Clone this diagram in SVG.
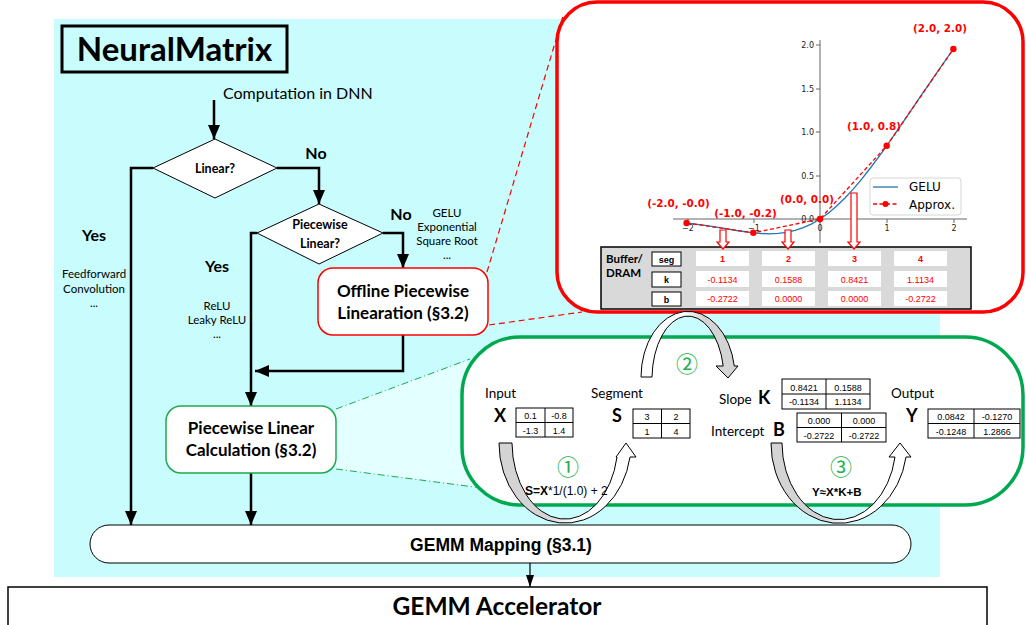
<svg xmlns="http://www.w3.org/2000/svg" width="1026" height="625" viewBox="0 0 1026 625">
<defs>
<style>
.cal{font-family:Lato,"Open Sans","Liberation Sans",sans-serif;fill:#000}
.ar{font-family:"Liberation Sans",Arial,sans-serif;fill:#000}
.dj{font-family:"DejaVu Sans",sans-serif}
.b{font-weight:bold}
.m{text-anchor:middle}
.flow{fill:none;stroke:#000;stroke-width:2.5}
.thin{fill:none;stroke:#000;stroke-width:1.2}
.node{fill:#fff;stroke:#000;stroke-width:1}
.cell{fill:#fff;stroke:#000;stroke-width:1}
.val{font-family:"Liberation Sans",Arial,sans-serif;font-size:9px;text-anchor:middle;fill:#000}
.rv{font-family:"Liberation Sans",Arial,sans-serif;font-size:9px;text-anchor:middle;fill:#ff0000}
.circ{font-family:"Noto Sans CJK SC","DejaVu Sans",sans-serif;font-size:22px;fill:#22b14c;text-anchor:middle;dominant-baseline:central}
.tick{font-family:"DejaVu Sans",sans-serif;font-size:8px;fill:#222}
.pl{font-family:"DejaVu Sans",sans-serif;font-size:10.4px;font-weight:bold;fill:#ff0000;text-anchor:middle}
.harrow{fill:#fff;stroke:#ff0000;stroke-width:1.2}
.loop{stroke:#000;stroke-width:1}
.lbl{font-family:Lato,"Open Sans","Liberation Sans",sans-serif;font-size:13.5px;fill:#000}
.big{font-family:Lato,"Open Sans","Liberation Sans",sans-serif;font-size:18px;font-weight:bold;fill:#000}
</style>
<marker id="ah" viewBox="0 0 14 12" refX="14" refY="6" markerWidth="14" markerHeight="12" markerUnits="userSpaceOnUse" orient="auto"><path d="M0,0 L14,6 L0,12 z" fill="#000"/></marker>
<marker id="ahs" viewBox="0 0 12 8" refX="12" refY="4" markerWidth="12" markerHeight="8" markerUnits="userSpaceOnUse" orient="auto"><path d="M0,0 L12,4 L0,8 z" fill="#000"/></marker>
<linearGradient id="gWG" x1="0" y1="0" x2="1" y2="0"><stop offset="0" stop-color="#fff"/><stop offset="0.45" stop-color="#fff"/><stop offset="0.65" stop-color="#d4d4d4"/><stop offset="1" stop-color="#d4d4d4"/></linearGradient>
<linearGradient id="gGW" x1="0" y1="0" x2="1" y2="0"><stop offset="0" stop-color="#d4d4d4"/><stop offset="0.35" stop-color="#d4d4d4"/><stop offset="0.55" stop-color="#fff"/><stop offset="1" stop-color="#fff"/></linearGradient>
</defs>

<rect x="54" y="19" width="886" height="558" fill="#c9fcfc"/>

<g id="title"><rect x="62" y="26" width="225" height="46" fill="none" stroke="#000" stroke-width="3"/><text class="cal b m" x="174.5" y="61" font-size="33">NeuralMatrix</text></g>

<g id="zoom-links">
<polygon points="336,409 468,360 480,487 336,469" fill="#e4ffff"/>
<line x1="336" y1="409" x2="470" y2="359" stroke="#1fa84f" stroke-width="1" stroke-dasharray="7 3 1 3"/>
<line x1="336" y1="469" x2="482" y2="488" stroke="#1fa84f" stroke-width="1" stroke-dasharray="7 3 1 3"/>
<line x1="487" y1="272" x2="563" y2="16" stroke="#ff0000" stroke-width="1.2" stroke-dasharray="6 4"/>
<line x1="489" y1="325" x2="582" y2="312" stroke="#ff0000" stroke-width="1.2" stroke-dasharray="6 4"/>
</g>

<g id="connectors">
<path class="flow" d="M214,100 V139" marker-end="url(#ah)"/>
<path class="flow" d="M153,168 H131 V525" marker-end="url(#ah)"/>
<path class="flow" d="M277,168 H319 V204" marker-end="url(#ah)"/>
<path class="flow" d="M257,233 H251 V406" marker-end="url(#ah)"/>
<path class="flow" d="M383,233 H403 V268" marker-end="url(#ah)"/>
<path class="flow" d="M403,335 V371 H255" marker-end="url(#ah)"/>
<path class="flow" d="M251,473 V525" marker-end="url(#ah)"/>
<path class="thin" d="M530,563 V587" marker-end="url(#ahs)"/>
</g>

<g id="start"><text class="cal" x="223" y="99" font-size="16">Computation in DNN</text></g>

<g id="linear-q"><polygon class="node" points="153,168 215,139 277,168 215,198"/><text class="cal b m" x="215" y="173" font-size="12.5">Linear?</text></g>
<g id="pw-q"><polygon class="node" points="257,233 319,204 383,233 319,264"/><text class="cal b m" x="320" y="229" font-size="12.5">Piecewise</text><text class="cal b m" x="320" y="248" font-size="12.5">Linear?</text></g>

<g id="labels">
<text class="cal b m" x="316" y="159" font-size="16">No</text>
<text class="cal b m" x="401" y="220" font-size="16">No</text>
<text class="cal b m" x="94" y="241" font-size="16">Yes</text>
<text class="cal m" x="94" y="278" font-size="11.5">Feedforward</text>
<text class="cal m" x="94" y="293" font-size="11.5">Convolution</text>
<text class="cal m" x="94" y="307" font-size="11.5">...</text>
<text class="cal b m" x="217" y="272" font-size="16">Yes</text>
<text class="cal m" x="217" y="310" font-size="11.5">ReLU</text>
<text class="cal m" x="217" y="324" font-size="11.5">Leaky ReLU</text>
<text class="cal m" x="217" y="338" font-size="11.5">...</text>
<text class="cal m" x="447" y="217" font-size="11.5">GELU</text>
<text class="cal m" x="447" y="231" font-size="11.5">Exponential</text>
<text class="cal m" x="447" y="245" font-size="11.5">Square Root</text>
<text class="cal m" x="447" y="259" font-size="11.5">...</text>
</g>

<g id="offline"><rect x="318" y="268" width="170" height="67" rx="15" fill="#fff" stroke="#ff0000" stroke-width="1.5"/><text class="cal b m" x="403" y="297" font-size="17">Offline Piecewise</text><text class="cal b m" x="403" y="319" font-size="17">Linearation (§3.2)</text></g>

<g id="calc"><rect x="166" y="406" width="170" height="67" rx="15" fill="#fff" stroke="#1fa84f" stroke-width="1.5"/><text class="cal b m" x="251" y="434" font-size="17">Piecewise Linear</text><text class="cal b m" x="251" y="456" font-size="17">Calculation (§3.2)</text></g>

<g id="red-panel">
<rect x="557" y="2" width="466" height="310" rx="40" fill="#fff" stroke="#ff0000" stroke-width="3.5"/>
<g id="plot">
<line x1="820" y1="40" x2="820" y2="243" stroke="#555" stroke-width="0.9"/>
<line x1="673" y1="219" x2="967" y2="219" stroke="#555" stroke-width="0.9"/>
<g stroke="#555" stroke-width="0.9"><line x1="816" y1="45" x2="820" y2="45"/><line x1="816" y1="89" x2="820" y2="89"/><line x1="816" y1="132" x2="820" y2="132"/><line x1="816" y1="176" x2="820" y2="176"/><line x1="816" y1="219" x2="820" y2="219"/>
<line x1="688" y1="219" x2="688" y2="223"/><line x1="754" y1="219" x2="754" y2="223"/><line x1="820" y1="219" x2="820" y2="223"/><line x1="887" y1="219" x2="887" y2="223"/><line x1="954" y1="219" x2="954" y2="223"/></g>
<g class="tick" text-anchor="end"><text x="814" y="48">2.0</text><text x="814" y="92">1.5</text><text x="814" y="135">1.0</text><text x="814" y="179">0.5</text><text x="814" y="222">0.0</text></g>
<g class="tick" text-anchor="middle"><text x="688" y="231">−2</text><text x="754" y="231">−1</text><text x="820" y="231">0</text><text x="887" y="231">1</text><text x="954" y="231">2</text></g>
<polyline fill="none" stroke="#1f77b4" stroke-width="1.3" points="686.6,223 703.3,225.1 720,227.7 736.6,230.5 753.3,232.8 761.7,233.5 770,233.8 778.3,233.4 786.6,232.4 795,230.4 803.3,227.7 811.7,223.8 820,219 828.3,213.2 836.7,206 845,198 853.4,188.9 861.7,179.2 870,168.5 878.4,157.4 886.7,145.8 903.4,121.7 920,97.2 936.7,72.8 953.4,49"/>
<polyline fill="none" stroke="#ff0000" stroke-width="1.3" stroke-dasharray="4 2.5" points="686.6,223 753.3,232.8 820,219 886.7,145.8 953.4,49"/>
<g fill="#ff0000"><circle cx="686.6" cy="223" r="3.2"/><circle cx="753.3" cy="232.8" r="3.2"/><circle cx="820" cy="219" r="3.2"/><circle cx="886.7" cy="145.8" r="3.2"/><circle cx="953.4" cy="49" r="3.2"/></g>
<text class="pl" x="940" y="32">(2.0, 2.0)</text>
<text class="pl" x="874" y="130">(1.0, 0.8)</text>
<text class="pl" x="807" y="203">(0.0, 0.0)</text>
<text class="pl" x="678.5" y="207">(-2.0, -0.0)</text>
<text class="pl" x="745.5" y="217">(-1.0, -0.2)</text>
<g id="legend"><rect x="870" y="178" width="91" height="37" rx="3" fill="#fff" stroke="#ccc" stroke-width="0.8"/>
<line x1="873" y1="187" x2="898" y2="187" stroke="#1f77b4" stroke-width="1.3"/><text class="dj" x="909" y="191" font-size="12" fill="#000">GELU</text>
<line x1="873" y1="204" x2="898" y2="204" stroke="#ff0000" stroke-width="1.3" stroke-dasharray="4 2.5"/><circle cx="885.5" cy="204" r="3" fill="#ff0000"/><text class="dj" x="909" y="208.5" font-size="12" fill="#000">Approx.</text></g>
</g>
<g id="table">
<rect x="601" y="247" width="370" height="62" fill="#d9d9d9" stroke="#000" stroke-width="1.5"/>
<text class="cal b" x="606" y="263" font-size="11.5">Buffer/</text>
<text class="cal b" x="606" y="277" font-size="11.5">DRAM</text>
<rect class="cell" x="652" y="252" width="29" height="14"/><text class="ar b m" x="666.5" y="262.5" font-size="9">seg</text>
<rect class="cell" x="652" y="272" width="29" height="15"/><text class="ar b m" x="666.5" y="283" font-size="9">k</text>
<rect class="cell" x="652" y="292" width="29" height="14"/><text class="ar b m" x="666.5" y="302.5" font-size="9">b</text>
<g fill="#fff"><rect x="696" y="251" width="53" height="15"/><rect x="762" y="251" width="53" height="15"/><rect x="828" y="251" width="53" height="15"/><rect x="894" y="251" width="53" height="15"/>
<rect x="696" y="271" width="53" height="16"/><rect x="762" y="271" width="53" height="16"/><rect x="828" y="271" width="53" height="16"/><rect x="894" y="271" width="53" height="16"/>
<rect x="696" y="291" width="53" height="15"/><rect x="762" y="291" width="53" height="15"/><rect x="828" y="291" width="53" height="15"/><rect x="894" y="291" width="53" height="15"/></g>
<text class="rv" font-weight="bold" x="722.5" y="262">1</text><text class="rv" font-weight="bold" x="788.5" y="262">2</text><text class="rv" font-weight="bold" x="854.5" y="262">3</text><text class="rv" font-weight="bold" x="920.5" y="262">4</text>
<text class="rv" x="722.5" y="282.5">-0.1134</text><text class="rv" x="788.5" y="282.5">0.1588</text><text class="rv" x="854.5" y="282.5">0.8421</text><text class="rv" x="920.5" y="282.5">1.1134</text>
<text class="rv" x="722.5" y="302">-0.2722</text><text class="rv" x="788.5" y="302">0.0000</text><text class="rv" x="854.5" y="302">0.0000</text><text class="rv" x="920.5" y="302">-0.2722</text>
</g>
<path class="harrow" d="M720,230 H726 V242 H729 L723,249 L717,242 H720 Z"/>
<path class="harrow" d="M785,230 H791 V242 H794 L788,249 L782,242 H785 Z"/>
<path class="harrow" d="M851,193 H857 V242 H860 L854,249 L848,242 H851 Z"/>
</g>

<g id="green-panel">
<rect x="462" y="337" width="561" height="168" rx="58" fill="#fff" stroke="#00a94f" stroke-width="3.5"/>
</g>

<g id="loops">
<path class="loop" fill="url(#gWG)" d="M641,377 A47 66 0 0 1 734.3,366 L738,366 L728,378 L716,366 L723.2,366 A36 63 0 0 0 652,377 Z"/>
<path class="loop" fill="url(#gGW)" d="M499,443 A66 80 0 0 0 630,457 L636,457 L626,443 L616,457 L617,457 A53 77 0 0 1 512,443 Z"/>
<path class="loop" fill="url(#gGW)" d="M771,443 A68 80 0 0 0 906,457 L911,457 L900,443 L889,457 L895,457 A57 77 0 0 1 782,443 Z"/>
</g>

<g id="calc-detail">
<text class="circ" x="687" y="362">②</text>
<text class="circ" x="568" y="465">①</text>
<text class="circ" x="841" y="465">③</text>
<text class="lbl" x="485" y="398">Input</text>
<text class="big" x="494" y="422">X</text>
<text class="lbl" x="591" y="398">Segment</text>
<text class="big" x="612" y="422">S</text>
<text class="lbl" x="719" y="404">Slope</text>
<text class="big" x="758" y="404">K</text>
<text class="lbl" x="711" y="436">Intercept</text>
<text class="big" x="773" y="436">B</text>
<text class="lbl" x="891" y="398">Output</text>
<text class="big" x="906" y="422">Y</text>
<g id="mX"><rect class="cell" x="516" y="408" width="57" height="29"/><line x1="545" y1="408" x2="545" y2="437" stroke="#000"/><line x1="516" y1="422.5" x2="573" y2="422.5" stroke="#000"/>
<text class="val" x="530.5" y="419">0.1</text><text class="val" x="559" y="419">-0.8</text><text class="val" x="530.5" y="433.5">-1.3</text><text class="val" x="559" y="433.5">1.4</text></g>
<g id="mS"><rect class="cell" x="633" y="409" width="57" height="29"/><line x1="661.5" y1="409" x2="661.5" y2="438" stroke="#000"/><line x1="633" y1="423.5" x2="690" y2="423.5" stroke="#000"/>
<text class="val" x="647" y="420">3</text><text class="val" x="676" y="420">2</text><text class="val" x="647" y="434.5">1</text><text class="val" x="676" y="434.5">4</text></g>
<g id="mK"><rect class="cell" x="782" y="379" width="88" height="30"/><line x1="826" y1="379" x2="826" y2="409" stroke="#000"/><line x1="782" y1="394" x2="870" y2="394" stroke="#000"/>
<text class="val" x="804" y="390.5">0.8421</text><text class="val" x="848" y="390.5">0.1588</text><text class="val" x="804" y="405">-0.1134</text><text class="val" x="848" y="405">1.1134</text></g>
<g id="mB"><rect class="cell" x="797" y="413" width="89" height="29"/><line x1="841.5" y1="413" x2="841.5" y2="442" stroke="#000"/><line x1="797" y1="427.5" x2="886" y2="427.5" stroke="#000"/>
<text class="val" x="819" y="424">0.000</text><text class="val" x="864" y="424">0.000</text><text class="val" x="819" y="438.5">-0.2722</text><text class="val" x="864" y="438.5">-0.2722</text></g>
<g id="mY"><rect class="cell" x="928" y="409" width="92" height="29"/><line x1="974" y1="409" x2="974" y2="438" stroke="#000"/><line x1="928" y1="423.5" x2="1020" y2="423.5" stroke="#000"/>
<text class="val" x="951" y="420">0.0842</text><text class="val" x="997" y="420">-0.1270</text><text class="val" x="951" y="434.5">-0.1248</text><text class="val" x="997" y="434.5">1.2866</text></g>
<text class="ar" x="525" y="495" font-size="12"><tspan font-weight="bold">S=X</tspan>*1/(1.0) + 2</text>
<text class="ar b" x="812" y="496" font-size="11.5">Y≈X*K+B</text>
</g>

<g id="gemm-mapping"><rect x="90" y="525" width="821" height="38" rx="19" fill="#fff" stroke="#000" stroke-width="1"/><text class="ar b m" x="501" y="551" font-size="17.5">GEMM Mapping (§3.1)</text></g>

<g id="gemm-accelerator"><rect x="8" y="587" width="979" height="45" fill="#fff" stroke="#000" stroke-width="1.5"/><text class="cal b m" x="497" y="615" font-size="24.5">GEMM Accelerator</text></g>
</svg>
